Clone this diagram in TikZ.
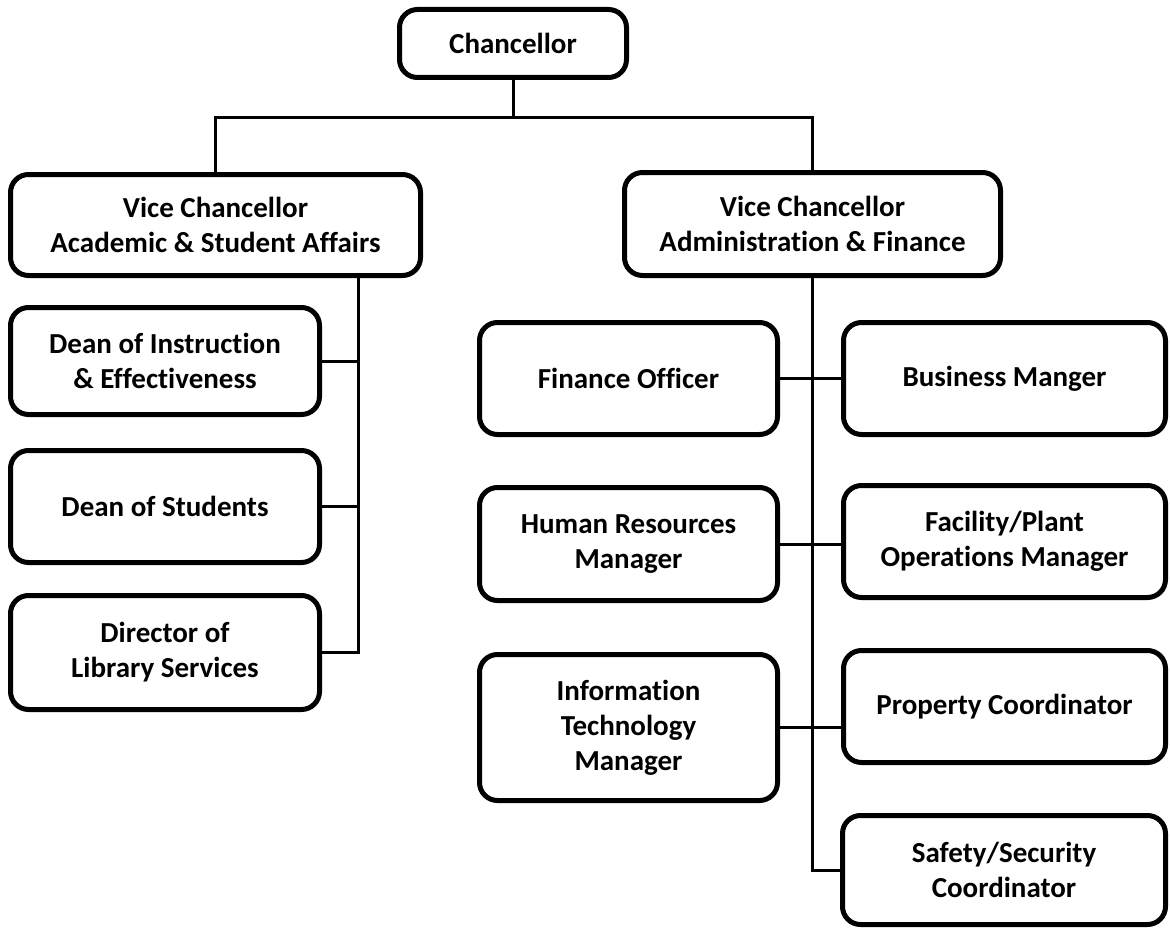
\documentclass[tikz,border=0pt]{standalone}
\usepackage{fontspec}
\setmainfont{Carlito}[Ligatures=NoCommon]
\begin{document}
\begin{tikzpicture}[x=1pt,y=1pt,
  box/.style={draw=black, line width=5pt, rounded corners=18pt, fill=white,
    align=center, inner sep=0pt, font=\fontsize{29}{35}\selectfont\bfseries},
  conn/.style={line width=3pt}]
\useasboundingbox (0,0) rectangle (1170,-931);
\node[box, minimum width=227pt, minimum height=68pt] (chan) at (513,-43.5) {Chancellor};
\node[box, minimum width=410pt, minimum height=101pt] (vcL) at (215.5,-225) {Vice Chancellor\\Academic \& Student Affairs};
\node[box, minimum width=376pt, minimum height=103pt] (vcR) at (812.5,-224) {Vice Chancellor\\Administration \& Finance};
\node[box, minimum width=309pt, minimum height=107pt] (dean1) at (165,-361) {Dean of Instruction\\\& Effectiveness};
\node[box, minimum width=309pt, minimum height=112pt] (dean2) at (165,-506.5) {Dean of Students};
\node[box, minimum width=309pt, minimum height=114pt] (lib) at (165,-652.5) {Director of\\Library Services};
\node[box, minimum width=298pt, minimum height=112pt] (fin) at (628.5,-378.5) {Finance Officer};
\node[box, minimum width=322pt, minimum height=112pt] (bus) at (1004.5,-378.5) {Business Manger};
\node[box, minimum width=298pt, minimum height=113pt] (hr) at (628.5,-544) {Human Resources\\Manager};
\node[box, minimum width=322pt, minimum height=112pt] (fac) at (1004.5,-541.5) {Facility/Plant\\Operations Manager};
\node[box, minimum width=298pt, minimum height=146pt] (it) at (628.5,-727.5) {Information\\Technology\\Manager};
\node[box, minimum width=322pt, minimum height=112pt] (prop) at (1004.5,-706.5) {Property Coordinator};
\node[box, minimum width=323pt, minimum height=109pt] (safe) at (1004,-870) {Safety/Security\\Coordinator};
% top bus
\coordinate (topbus) at (513,-118);
\draw[conn] (chan.south) -- (topbus);
\draw[conn] (vcL.north) |- (topbus) -| (vcR.north);
% left spine
\coordinate (ls) at (358,-278);
\draw[conn] (ls |- vcL.south) -- (ls |- lib.east) -- (lib.east);
\draw[conn] (dean1.east) -- (dean1.east -| ls);
\draw[conn] (dean2.east) -- (dean2.east -| ls);
% right spine
\draw[conn] (vcR.south) -- (vcR.south |- safe.west) -- (safe.west);
\draw[conn] (fin.east) -- (bus.west);
\draw[conn] (hr.east) -- (hr.east -| fac.west);
\draw[conn] (it.east) -- (it.east -| prop.west);
\end{tikzpicture}
\end{document}
